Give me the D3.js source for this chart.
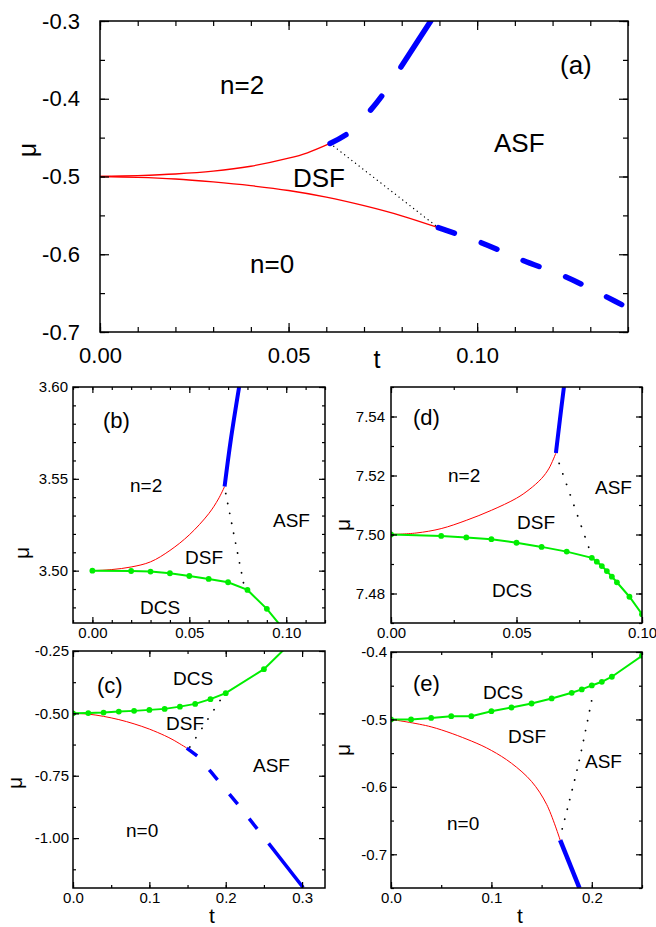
<!DOCTYPE html>
<html>
<head>
<meta charset="utf-8">
<script src="https://cdn.jsdelivr.net/npm/d3@7"></script>
<style>
  body { margin: 0; background: #fff; }
  svg { display: block; font-family: "Liberation Sans", Arial, sans-serif; }
</style>
</head>
<body>
<svg id="chart" width="656" height="927"></svg>
<script>
// ---- panel (a) ----
const aRedUpper = [[0,-0.5],[0.01,-0.4988],[0.02,-0.4968],[0.03,-0.4932],[0.04,-0.4868],[0.05,-0.4765],[0.055,-0.4695],[0.061,-0.4575]];
const aRedLower = [[0,-0.5],[0.01,-0.501],[0.02,-0.5032],[0.03,-0.507],[0.04,-0.5118],[0.05,-0.518],[0.06,-0.5265],[0.07,-0.5375],[0.08,-0.5505],[0.0897,-0.5658]];
const aBlueUpper = [[0.061,-0.4575],[0.0661,-0.4432],[0.0716,-0.4154],[0.0756,-0.3906],[0.0796,-0.3606],[0.0877,-0.3]];
const aBlueLower = [[0.0897,-0.5658],[0.1008,-0.5846],[0.1119,-0.6075],[0.1233,-0.6286],[0.1346,-0.6555],[0.1401,-0.6692]];
const aDotted = [[0.061,-0.4575],[0.0897,-0.5658]];

// ---- panel (b) ----
const bRed = [[0,3.5],[0.01,3.5006],[0.02,3.502],[0.03,3.5048],[0.04,3.511],[0.05,3.5195],[0.06,3.531],[0.065,3.539],[0.0682,3.5458]];
const bBlue = [[0.0682,3.5458],[0.0714,3.5712],[0.0757,3.60]];
const bGreen = [[0,3.5],[0.02,3.4998],[0.03,3.4995],[0.04,3.4986],[0.05,3.4971],[0.06,3.4955],[0.07,3.4937],[0.08,3.4895],[0.09,3.4792]];
const bGreenTail = [[0.0975,3.4695]];
const bDotted = [[0.0688,3.542],[0.0785,3.4905]];

// ---- panel (c) ----
const cRed = [[0,-0.5],[0.02,-0.503],[0.04,-0.512],[0.06,-0.525],[0.08,-0.542],[0.10,-0.563],[0.12,-0.589],[0.131,-0.606],[0.149,-0.639]];
const cBlue = [[0.149,-0.639],[0.1636,-0.6728],[0.1807,-0.735],[0.2182,-0.873],[0.2585,-1.03],[0.3014,-1.198]];
const cGreen = [[0,-0.5],[0.02,-0.499],[0.04,-0.497],[0.06,-0.493],[0.08,-0.49],[0.10,-0.486],[0.12,-0.482],[0.14,-0.473],[0.16,-0.462],[0.18,-0.443],[0.20,-0.419],[0.25,-0.323]];
const cGreenTail = [[0.276,-0.245]];
const cDotted = [[0.153,-0.635],[0.196,-0.432]];

// ---- panel (d) ----
const dRed = [[0,7.5],[0.01,7.5005],[0.02,7.502],[0.03,7.5048],[0.04,7.5082],[0.05,7.5123],[0.055,7.5152],[0.06,7.519],[0.063,7.5225],[0.0657,7.5276]];
const dBlue = [[0.0657,7.5276],[0.0673,7.539],[0.0689,7.55]];
const dGreen = [[0,7.5],[0.02,7.4995],[0.03,7.499],[0.04,7.4984],[0.05,7.4972],[0.06,7.4958],[0.07,7.4942],[0.08,7.4921],[0.082,7.4908],[0.084,7.4893],[0.086,7.4876],[0.088,7.4857],[0.09,7.4838],[0.095,7.4789],[0.10,7.473]];
const dDotted = [[0.067,7.5241],[0.080,7.4927]];

// ---- panel (e) ----
const eRed = [[0,-0.5],[0.04,-0.511],[0.08,-0.532],[0.10,-0.546],[0.12,-0.565],[0.14,-0.592],[0.155,-0.626],[0.1685,-0.679]];
const eBlue = [[0.1685,-0.679],[0.1877,-0.75]];
const eGreen = [[0,-0.5],[0.02,-0.5],[0.04,-0.4977],[0.06,-0.4952],[0.08,-0.4952],[0.10,-0.4878],[0.12,-0.4823],[0.14,-0.4764],[0.16,-0.4689],[0.18,-0.4605],[0.19,-0.4555],[0.20,-0.4496],[0.21,-0.4442],[0.22,-0.4367],[0.25,-0.4055]];
const eDotted = [[0.1705,-0.6624],[0.1761,-0.630],[0.186,-0.5706],[0.1959,-0.501],[0.2009,-0.464]];

// tick values
const aXTicks = [0, 0.05, 0.10], aXMinor = d3.range(0, 0.1401, 0.01);
const aYTicks = [-0.7, -0.6, -0.5, -0.4, -0.3], aYMinor = d3.range(-0.7, -0.2999, 0.05);
const bXTicks = [0, 0.05, 0.10], bXMinor = d3.range(-0.01, 0.1201, 0.01);
const bYTicks = [3.50, 3.55, 3.60], bYMinor = d3.range(3.48, 3.6001, 0.01);
const cXTicks = [0, 0.1, 0.2, 0.3], cXMinor = d3.range(0, 0.3301, 0.05);
const cYTicks = [-1.00, -0.75, -0.50, -0.25], cYMinor = d3.range(-1.125, -0.2499, 0.125);
const dXTicks = [0, 0.05, 0.10], dXMinor = d3.range(0, 0.1001, 0.025);
const dYTicks = [7.48, 7.50, 7.52, 7.54], dYMinor = d3.range(7.47, 7.5501, 0.01);
const eXTicks = [0, 0.1, 0.2], eXMinor = d3.range(0, 0.2501, 0.05);
const eYTicks = [-0.7, -0.6, -0.5, -0.4], eYMinor = d3.range(-0.75, -0.3999, 0.05);

const RED = "#ff0000", BLUE = "#0000ff", GREEN = "#00ee00";
const svg = d3.select("#chart");
let clipId = 0;

function drawPanel(p) {
  const x = d3.scaleLinear().domain(p.xDomain).range([p.left, p.right]);
  const y = d3.scaleLinear().domain(p.yDomain).range([p.bottom, p.top]);
  const g = svg.append("g");
  const id = "clip" + (clipId++);
  g.append("clipPath").attr("id", id).append("rect")
    .attr("x", p.left).attr("y", p.top)
    .attr("width", p.right - p.left).attr("height", p.bottom - p.top);
  const plot = g.append("g").attr("clip-path", `url(#${id})`);
  // smooth curves for the computed boundaries, straight segments for the marker series
  const smooth = d3.line().x(d => x(d[0])).y(d => y(d[1])).curve(d3.curveCatmullRom.alpha(0.5));
  const straight = d3.line().x(d => x(d[0])).y(d => y(d[1]));

  p.lines.forEach(l => {
    plot.append("path").datum(l.data)
      .attr("d", l.curve === false ? straight(l.data) : smooth(l.data))
      .attr("fill", "none")
      .attr("stroke", l.color)
      .attr("stroke-width", l.width)
      .attr("stroke-dasharray", l.dash || null)
      .attr("stroke-linecap", l.cap || "butt");
    if (l.markers) {
      plot.selectAll(null).data(l.markers).enter().append("circle")
        .attr("cx", d => x(d[0])).attr("cy", d => y(d[1]))
        .attr("r", 2.9).attr("fill", l.color);
    }
  });

  const major = p.major, minor = p.minor;
  const axes = [
    [d3.axisBottom(x).tickValues(p.xTicks).tickFormat(p.xFmt).tickPadding(p.xPad), `translate(0,${p.bottom})`, true],
    [d3.axisBottom(x).tickValues(p.xMinor).tickFormat(""), `translate(0,${p.bottom})`, false],
    [d3.axisTop(x).tickValues(p.xTicks).tickFormat(""), `translate(0,${p.top})`, true],
    [d3.axisTop(x).tickValues(p.xMinor).tickFormat(""), `translate(0,${p.top})`, false],
    [d3.axisLeft(y).tickValues(p.yTicks).tickFormat(p.yFmt).tickPadding(p.yPad), `translate(${p.left},0)`, true],
    [d3.axisLeft(y).tickValues(p.yMinor).tickFormat(""), `translate(${p.left},0)`, false],
    [d3.axisRight(y).tickValues(p.yTicks).tickFormat(""), `translate(${p.right},0)`, true],
    [d3.axisRight(y).tickValues(p.yMinor).tickFormat(""), `translate(${p.right},0)`, false]
  ];
  axes.forEach(([ax, tr, isMajor]) => {
    const a = g.append("g").attr("transform", tr)
      .call(ax.tickSizeInner(-(isMajor ? major : minor)).tickSizeOuter(0));
    a.select(".domain").remove();
    a.selectAll("line").attr("stroke", "#000").attr("stroke-width", 1.2);
    a.selectAll("text").attr("fill", "#000")
      .style("font-family", "'Liberation Sans', Arial, sans-serif")
      .style("font-size", p.tickFont + "px");
  });

  g.append("rect")
    .attr("x", p.left).attr("y", p.top)
    .attr("width", p.right - p.left).attr("height", p.bottom - p.top)
    .attr("fill", "none").attr("stroke", "#000").attr("stroke-width", 1.5);

  p.labels.forEach(t => {
    g.append("text").attr("x", t[1]).attr("y", t[2])
      .style("font-size", p.labelFont + "px").text(t[0]);
  });
  if (p.panelLabel) {
    g.append("text").attr("x", p.panelLabel[1]).attr("y", p.panelLabel[2])
      .style("font-size", p.panelFont + "px").text(p.panelLabel[0]);
  }
  if (p.muPos) {
    g.append("text")
      .attr("transform", `translate(${p.muPos[0]},${p.muPos[1]}) rotate(-90)`)
      .attr("text-anchor", "middle")
      .style("font-size", p.titleFont + "px").text("μ");
  }
  if (p.tPos) {
    g.append("text").attr("x", p.tPos[0]).attr("y", p.tPos[1])
      .attr("text-anchor", "middle")
      .style("font-size", p.titleFont + "px").text("t");
  }
}

const f1 = d => d.toFixed(1), f2 = d => d.toFixed(2);

drawPanel({
  xDomain: [0, 0.14], yDomain: [-0.7, -0.3],
  left: 100, right: 628, top: 21, bottom: 332,
  xTicks: aXTicks, xMinor: aXMinor, yTicks: aYTicks, yMinor: aYMinor,
  xFmt: f2, yFmt: f1, xPad: 15, yPad: 20, major: 9, minor: 5,
  tickFont: 22, labelFont: 26, panelFont: 26, titleFont: 25,
  lines: [
    { data: aRedUpper, color: RED, width: 1.3 },
    { data: aRedLower, color: RED, width: 1.3 },
    { data: aDotted, color: "#000", width: 1.3, dash: "0.1,4.5", cap: "round", curve: false },
    { data: aBlueUpper, color: BLUE, width: 5.5, dash: "18,35,18,35,80", cap: "round" },
    { data: aBlueLower, color: BLUE, width: 5.5, dash: "17,28.5", cap: "round" }
  ],
  labels: [["n=2", 220, 94], ["ASF", 494, 152], ["DSF", 293, 187], ["n=0", 250, 273]],
  panelLabel: ["(a)", 560, 74],
  muPos: [36, 150], tPos: [377, 368]
});

drawPanel({
  xDomain: [-0.01, 0.12], yDomain: [3.4715, 3.60],
  left: 73, right: 325, top: 387, bottom: 623,
  xTicks: bXTicks, xMinor: bXMinor, yTicks: bYTicks, yMinor: bYMinor,
  xFmt: f2, yFmt: f2, xPad: 4, yPad: 5, major: 6, minor: 3,
  tickFont: 15, labelFont: 19, panelFont: 22, titleFont: 21,
  lines: [
    { data: bRed, color: RED, width: 1 },
    { data: bBlue, color: BLUE, width: 4 },
    { data: bGreen.concat(bGreenTail), color: GREEN, width: 2, markers: bGreen, curve: false },
    { data: bDotted, color: "#000", width: 1.8, dash: "0.1,10", cap: "round", curve: false }
  ],
  labels: [["n=2", 130, 492], ["ASF", 273, 527], ["DSF", 185, 564], ["DCS", 140, 614]],
  panelLabel: ["(b)", 103, 428],
  muPos: [29, 553]
});

drawPanel({
  xDomain: [0, 0.10], yDomain: [7.47, 7.55],
  left: 391, right: 642, top: 387, bottom: 623,
  xTicks: dXTicks, xMinor: dXMinor, yTicks: dYTicks, yMinor: dYMinor,
  xFmt: f2, yFmt: f2, xPad: 4, yPad: 6, major: 6, minor: 3,
  tickFont: 15, labelFont: 19, panelFont: 22, titleFont: 21,
  lines: [
    { data: dRed, color: RED, width: 1 },
    { data: dBlue, color: BLUE, width: 4 },
    { data: dGreen, color: GREEN, width: 2, markers: dGreen, curve: false },
    { data: dDotted, color: "#000", width: 1.8, dash: "0.1,11", cap: "round", curve: false }
  ],
  labels: [["n=2", 448, 482], ["ASF", 595, 494], ["DSF", 517, 529], ["DCS", 492, 597]],
  panelLabel: ["(d)", 413, 425],
  muPos: [350, 525]
});

drawPanel({
  xDomain: [0, 0.33], yDomain: [-1.2, -0.25],
  left: 73, right: 325, top: 651, bottom: 888,
  xTicks: cXTicks, xMinor: cXMinor, yTicks: cYTicks, yMinor: cYMinor,
  xFmt: f1, yFmt: f2, xPad: 4, yPad: 4, major: 6, minor: 3,
  tickFont: 15, labelFont: 19, panelFont: 22, titleFont: 21,
  lines: [
    { data: cRed, color: RED, width: 1 },
    { data: cBlue, color: BLUE, width: 3.5, dash: "13,18.5,13,18.5,13,18.5,13,18.5,80", curve: false },
    { data: cGreen.concat(cGreenTail), color: GREEN, width: 2, markers: cGreen, curve: false },
    { data: cDotted, color: "#000", width: 1.8, dash: "0.1,11", cap: "round", curve: false }
  ],
  labels: [["DCS", 173, 685], ["DSF", 166, 730], ["ASF", 253, 772], ["n=0", 126, 837]],
  panelLabel: ["(c)", 97, 693],
  muPos: [22, 783], tPos: [212, 923]
});

drawPanel({
  xDomain: [0, 0.25], yDomain: [-0.75, -0.4],
  left: 391, right: 642, top: 652, bottom: 888,
  xTicks: eXTicks, xMinor: eXMinor, yTicks: eYTicks, yMinor: eYMinor,
  xFmt: f1, yFmt: f1, xPad: 4, yPad: 4, major: 6, minor: 3,
  tickFont: 15, labelFont: 19, panelFont: 22, titleFont: 21,
  lines: [
    { data: eRed, color: RED, width: 1 },
    { data: eBlue, color: BLUE, width: 4.5, curve: false },
    { data: eGreen, color: GREEN, width: 2, markers: eGreen, curve: false },
    { data: eDotted, color: "#000", width: 1.8, dash: "0.1,10", cap: "round" }
  ],
  labels: [["DCS", 483, 699], ["DSF", 508, 743], ["ASF", 585, 768], ["n=0", 447, 830]],
  panelLabel: ["(e)", 413, 691],
  muPos: [350, 750], tPos: [520, 923]
});
</script>
</body>
</html>
